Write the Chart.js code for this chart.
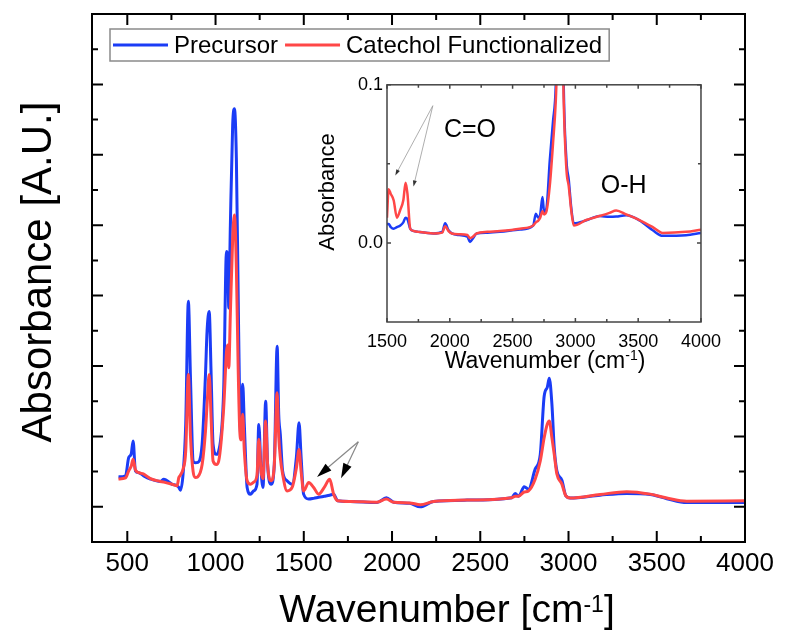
<!DOCTYPE html>
<html>
<head>
<meta charset="utf-8">
<script src="https://cdn.jsdelivr.net/npm/chart.js@4.4.1/dist/chart.umd.min.js"></script>
<style>
  body { margin: 0; background: #fff; }
  #wrap { position: relative; width: 786px; height: 635px; }
  #main { position: absolute; left: 0; top: 0; }
  #inset { position: absolute; left: 300px; top: 70px; }
</style>
</head>
<body>
<div id="wrap">
  <canvas id="main" width="786" height="635"></canvas>
  <canvas id="inset" width="430" height="320"></canvas>
</div>
<script>
// main spectrum (wavenumber in cm-1, absorbance in a.u.)
const wavenumber = [450, 490, 508, 522, 533, 546, 565, 593, 631, 688, 707, 754, 782, 792, 801, 816, 831, 846, 858, 873,
  886, 899, 924, 943, 952, 964, 975, 986, 1005, 1018, 1046, 1062, 1069, 1075, 1084, 1097, 1107, 1118, 1128, 1137,
  1145, 1154, 1163, 1179, 1198, 1216, 1235, 1245, 1258, 1269, 1284, 1295, 1315, 1333, 1349, 1358, 1367, 1380, 1405, 1434,
  1458, 1473, 1485, 1499, 1528, 1556, 1584, 1616, 1647, 1669, 1692, 1764, 1915, 1968, 2009, 2100, 2160, 2235, 2425, 2679,
  2698, 2717, 2749, 2773, 2811, 2840, 2862, 2880, 2891, 2906, 2919, 2934, 2962, 2985, 3009, 3179, 3330, 3463, 3557, 3670, 4000];
const precursor = [0.085, 0.088, 0.14, 0.15, 0.187, 0.102, 0.097, 0.088, 0.079, 0.072, 0.078, 0.064, 0.06, 0.055, 0.047, 0.093, 0.234, 0.584, 0.366, 0.13,
  0.125, 0.126, 0.178, 0.376, 0.499, 0.555, 0.376, 0.178, 0.149, 0.159, 0.33, 0.725, 0.706, 0.565, 0.8, 1.084, 1.131, 0.99, 0.612, 0.281,
  0.196, 0.348, 0.234, 0.055, 0.036, 0.045, 0.064, 0.234, 0.102, 0.055, 0.3, 0.121, 0.064, 0.121, 0.456, 0.263, 0.206, 0.102, 0.074, 0.064,
  0.14, 0.239, 0.14, 0.036, 0.022, 0.024, 0.027, 0.03, 0.033, 0.036, 0.017, 0.015, 0.012, 0.026, 0.013, 0.01, 0.0, 0.015, 0.019, 0.026,
  0.038, 0.03, 0.057, 0.05, 0.107, 0.149, 0.314, 0.34, 0.365, 0.291, 0.168, 0.102, 0.076, 0.031, 0.025, 0.033, 0.038, 0.035, 0.023, 0.012, 0.012];
const catechol = [0.079, 0.082, 0.102, 0.115, 0.135, 0.105, 0.097, 0.093, 0.08, 0.072, 0.07, 0.064, 0.06, 0.083, 0.09, 0.107, 0.159, 0.376, 0.2, 0.1,
  0.083, 0.085, 0.12, 0.215, 0.29, 0.376, 0.25, 0.13, 0.12, 0.13, 0.28, 0.44, 0.46, 0.395, 0.55, 0.76, 0.829, 0.68, 0.4, 0.22,
  0.19, 0.263, 0.16, 0.074, 0.064, 0.07, 0.09, 0.192, 0.1, 0.08, 0.244, 0.12, 0.074, 0.12, 0.324, 0.2, 0.14, 0.093, 0.045, 0.055,
  0.11, 0.163, 0.1, 0.045, 0.069, 0.055, 0.036, 0.055, 0.078, 0.036, 0.017, 0.015, 0.013, 0.022, 0.013, 0.011, 0.006, 0.015, 0.019, 0.026,
  0.03, 0.03, 0.042, 0.045, 0.078, 0.13, 0.196, 0.235, 0.244, 0.196, 0.15, 0.093, 0.065, 0.031, 0.025, 0.035, 0.043, 0.036, 0.025, 0.016, 0.017];

// inset, zoom on 1500-4000
const insetWavenumber = [1500, 1513, 1530, 1553, 1579, 1606, 1630, 1648, 1663, 1685, 1711, 1750, 1870, 1940, 1963, 1990, 2016, 2075, 2140, 2161,
  2185, 2214, 2300, 2399, 2558, 2664, 2685, 2703, 2720, 2738, 2751, 2770, 2796, 2822, 2844, 2870, 2890, 2907, 2929, 2947,
  2968, 2987, 3087, 3193, 3272, 3325, 3405, 3510, 3616, 3695, 3881, 4000];
const insetPrecursor = [0.012, 0.012, 0.01, 0.009, 0.01, 0.011, 0.013, 0.016, 0.015, 0.009, 0.0076, 0.007, 0.006, 0.007, 0.0124, 0.008, 0.006, 0.005, 0.004, 0.0006,
  0.003, 0.006, 0.0065, 0.007, 0.0085, 0.011, 0.0185, 0.016, 0.018, 0.029, 0.0195, 0.022, 0.052, 0.077, 0.1, 0.2, 0.22, 0.1, 0.052, 0.04,
  0.0215, 0.0124, 0.0143, 0.017, 0.0165, 0.0167, 0.0175, 0.0143, 0.008, 0.0045, 0.0049, 0.0063];
const insetCatechol = [0.016, 0.034, 0.031, 0.027, 0.016, 0.021, 0.027, 0.038, 0.031, 0.009, 0.0076, 0.007, 0.006, 0.0065, 0.0105, 0.0075, 0.006, 0.0055, 0.005, 0.003,
  0.004, 0.006, 0.007, 0.0075, 0.009, 0.011, 0.013, 0.014, 0.016, 0.02, 0.018, 0.02, 0.036, 0.063, 0.09, 0.15, 0.16, 0.09, 0.046, 0.036,
  0.02, 0.011, 0.0145, 0.017, 0.019, 0.0205, 0.018, 0.0145, 0.01, 0.0063, 0.007, 0.0084];

// axis ticks
const xTicks = [500, 1000, 1500, 2000, 2500, 3000, 3500, 4000];
const xMinorTicks = [750, 1250, 1750, 2250, 2750, 3250, 3750];
const yTicks = [0, 0.2, 0.4, 0.6, 0.8, 1.0, 1.2, 1.4];
const yMinorTicks = [0.1, 0.3, 0.5, 0.7, 0.9, 1.1, 1.3];
const insetXTicks = [1500, 2000, 2500, 3000, 3500, 4000];
const insetXMinorTicks = [1750, 2250, 2750, 3250, 3750];
const insetYTicks = [0, 0.1];
const insetYMinorTicks = [0.05];

const BLUE = '#1b3cf6';
const RED = '#ff4747';
const FONT = '"Liberation Sans", Arial, sans-serif';

function pts(xs, ys) {
  return xs.map((x, i) => ({ x: x, y: ys[i] }));
}

function drawFrame(chart, o) {
  const ctx = chart.ctx, a = chart.chartArea;
  const sx = chart.scales.x, sy = chart.scales.y;
  ctx.save();
  ctx.strokeStyle = o.color;
  ctx.lineWidth = o.width;
  ctx.beginPath();
  const xt = (v, len) => {
    const p = sx.getPixelForValue(v);
    ctx.moveTo(p, a.bottom); ctx.lineTo(p, a.bottom - len);
    ctx.moveTo(p, a.top); ctx.lineTo(p, a.top + len);
  };
  const yt = (v, len) => {
    const p = sy.getPixelForValue(v);
    ctx.moveTo(a.left, p); ctx.lineTo(a.left + len, p);
    ctx.moveTo(a.right, p); ctx.lineTo(a.right - len, p);
  };
  o.xMajor.forEach(v => xt(v, o.major));
  o.xMinor.forEach(v => xt(v, o.minor));
  o.yMajor.forEach(v => yt(v, o.major));
  o.yMinor.forEach(v => yt(v, o.minor));
  ctx.stroke();
  ctx.strokeRect(a.left, a.top, a.right - a.left, a.bottom - a.top);
  ctx.restore();
}

// text with a superscript part, centred on cx
function supText(ctx, parts, cx, y) {
  let w = 0;
  parts.forEach(p => { ctx.font = p.size + 'px ' + FONT; p.w = ctx.measureText(p.t).width; w += p.w; });
  let x = cx - w / 2;
  ctx.textAlign = 'left';
  ctx.textBaseline = 'alphabetic';
  parts.forEach(p => {
    ctx.font = p.size + 'px ' + FONT;
    ctx.fillText(p.t, x, y + (p.dy || 0));
    x += p.w;
  });
}

function vText(ctx, text, size, x, y) {
  ctx.save();
  ctx.translate(x, y);
  ctx.rotate(-Math.PI / 2);
  ctx.font = size + 'px ' + FONT;
  ctx.textAlign = 'center';
  ctx.textBaseline = 'alphabetic';
  ctx.fillText(text, 0, 0);
  ctx.restore();
}

function arrow(ctx, x0, y0, x1, y1, head, headW, lineColor, headColor, lw) {
  const ang = Math.atan2(y1 - y0, x1 - x0);
  const c = Math.cos(ang), s = Math.sin(ang);
  ctx.strokeStyle = lineColor;
  ctx.lineWidth = lw;
  ctx.beginPath();
  ctx.moveTo(x0, y0);
  ctx.lineTo(x1 - c * head * 0.7, y1 - s * head * 0.7);
  ctx.stroke();
  ctx.fillStyle = headColor;
  ctx.beginPath();
  ctx.moveTo(x1, y1);
  ctx.lineTo(x1 - head * c + headW / 2 * s, y1 - head * s - headW / 2 * c);
  ctx.lineTo(x1 - head * c - headW / 2 * s, y1 - head * s + headW / 2 * c);
  ctx.closePath();
  ctx.fill();
}

const mainDecor = {
  id: 'mainDecor',
  afterDraw(chart) {
    const ctx = chart.ctx, sx = chart.scales.x, sy = chart.scales.y;
    drawFrame(chart, { color: '#000', width: 2, major: 11, minor: 6,
      xMajor: xTicks, xMinor: xMinorTicks, yMajor: yTicks, yMinor: yMinorTicks });

    // arrows to the C=O bands
    ctx.save();
    const ox = sx.getPixelForValue(1809), oy = sy.getPixelForValue(0.185);
    arrow(ctx, ox, oy, sx.getPixelForValue(1575), sy.getPixelForValue(0.085), 15, 9, '#888', '#000', 1.2);
    arrow(ctx, ox, oy, sx.getPixelForValue(1711), sy.getPixelForValue(0.081), 15, 9, '#888', '#000', 1.2);

    // axis titles
    ctx.fillStyle = '#000';
    supText(ctx, [{ t: 'Wavenumber [cm', size: 39 }, { t: '-1', size: 23, dy: -10 }, { t: ']', size: 39 }], 447, 622);
    vText(ctx, 'Absorbance [A.U.]', 42, 51, 272);

    // legend
    const lx = 110, ly = 29, lh = 32, cy = ly + lh / 2;
    ctx.font = '24px ' + FONT;
    const items = chart.data.datasets.map(d => ({ label: d.label, color: d.borderColor }));
    let x = lx + 3;
    const segs = items.map(it => {
      const seg = { x0: x, x1: x + 55, tx: x + 61, it: it };
      x = seg.tx + ctx.measureText(it.label).width + 7;
      return seg;
    });
    ctx.fillStyle = '#fff';
    ctx.fillRect(lx, ly, x - lx, lh);
    ctx.strokeStyle = '#8a8a8a';
    ctx.lineWidth = 1.5;
    ctx.strokeRect(lx, ly, x - lx, lh);
    segs.forEach(sg => {
      ctx.strokeStyle = sg.it.color;
      ctx.lineWidth = 3;
      ctx.beginPath();
      ctx.moveTo(sg.x0, cy); ctx.lineTo(sg.x1, cy);
      ctx.stroke();
      ctx.fillStyle = '#000';
      ctx.textAlign = 'left';
      ctx.textBaseline = 'middle';
      ctx.fillText(sg.it.label, sg.tx, cy + 1);
    });
    ctx.restore();
  }
};

const insetDecor = {
  id: 'insetDecor',
  afterDraw(chart) {
    const ctx = chart.ctx, sx = chart.scales.x, sy = chart.scales.y;
    drawFrame(chart, { color: '#444', width: 1.5, major: 4, minor: 3,
      xMajor: insetXTicks, xMinor: insetXMinorTicks, yMajor: insetYTicks, yMinor: insetYMinorTicks });
    ctx.save();
    const ox = sx.getPixelForValue(1865), oy = sy.getPixelForValue(0.0868);
    arrow(ctx, ox, oy, sx.getPixelForValue(1566), sy.getPixelForValue(0.0427), 6, 4, '#999', '#333', 0.8);
    arrow(ctx, ox, oy, sx.getPixelForValue(1711), sy.getPixelForValue(0.0357), 6, 4, '#999', '#333', 0.8);

    ctx.fillStyle = '#000';
    ctx.font = '25px ' + FONT;
    ctx.textAlign = 'center';
    ctx.textBaseline = 'middle';
    ctx.fillText('C=O', sx.getPixelForValue(2161), sy.getPixelForValue(0.0716));
    ctx.fillText('O-H', sx.getPixelForValue(3384), sy.getPixelForValue(0.0357));

    supText(ctx, [{ t: 'Wavenumber (cm', size: 23 }, { t: '-1', size: 14, dy: -8 }, { t: ')', size: 23 }], 245, 298);
    vText(ctx, 'Absorbance', 22, 34, 122);
    ctx.restore();
  }
};

new Chart(document.getElementById('main'), {
  type: 'line',
  data: {
    datasets: [{
      label: 'Precursor',
      data: pts(wavenumber, precursor),
      borderColor: BLUE,
      borderWidth: 3,
      pointRadius: 0,
      cubicInterpolationMode: 'monotone',
      order: 2
    }, {
      label: 'Catechol Functionalized',
      data: pts(wavenumber, catechol),
      borderColor: RED,
      borderWidth: 3,
      pointRadius: 0,
      cubicInterpolationMode: 'monotone',
      order: 1
    }]
  },
  options: {
    responsive: false,
    animation: false,
    layout: { padding: { top: 14, right: 41, left: 0, bottom: 0 } },
    plugins: { legend: { display: false }, tooltip: { enabled: false } },
    scales: {
      x: {
        type: 'linear', min: 300, max: 4000,
        grid: { display: false, drawTicks: false },
        border: { display: false },
        afterBuildTicks: s => { s.ticks = xTicks.map(v => ({ value: v })); },
        afterFit: s => { s.height = 93; },
        ticks: { font: { family: FONT, size: 26 }, color: '#000', padding: 6, maxRotation: 0, autoSkip: false, callback: v => v }
      },
      y: {
        type: 'linear', min: -0.1, max: 1.4,
        grid: { display: false, drawTicks: false },
        border: { display: false },
        ticks: { display: false },
        afterFit: s => { s.width = 92; }
      }
    }
  },
  plugins: [mainDecor]
});

new Chart(document.getElementById('inset'), {
  type: 'line',
  data: {
    datasets: [{
      label: 'Precursor',
      data: pts(insetWavenumber, insetPrecursor),
      borderColor: BLUE,
      borderWidth: 2.5,
      pointRadius: 0,
      cubicInterpolationMode: 'monotone',
      order: 2
    }, {
      label: 'Catechol Functionalized',
      data: pts(insetWavenumber, insetCatechol),
      borderColor: RED,
      borderWidth: 2.5,
      pointRadius: 0,
      cubicInterpolationMode: 'monotone',
      order: 1
    }]
  },
  options: {
    responsive: false,
    animation: false,
    layout: { padding: { top: 14, right: 28, left: 0, bottom: 0 } },
    plugins: { legend: { display: false }, tooltip: { enabled: false } },
    scales: {
      x: {
        type: 'linear', min: 1500, max: 4000,
        grid: { display: false, drawTicks: false },
        border: { display: false },
        afterBuildTicks: s => { s.ticks = insetXTicks.map(v => ({ value: v })); },
        afterFit: s => { s.height = 68; },
        ticks: { font: { family: FONT, size: 18 }, color: '#000', padding: 9, maxRotation: 0, autoSkip: false, callback: v => v }
      },
      y: {
        type: 'linear', min: -0.05, max: 0.1,
        grid: { display: false, drawTicks: false },
        border: { display: false },
        afterBuildTicks: s => { s.ticks = insetYTicks.map(v => ({ value: v })); },
        afterFit: s => { s.width = 87; },
        ticks: { font: { family: FONT, size: 18 }, color: '#000', padding: 4, callback: v => v.toFixed(1) }
      }
    }
  },
  plugins: [insetDecor]
});
</script>
</body>
</html>
